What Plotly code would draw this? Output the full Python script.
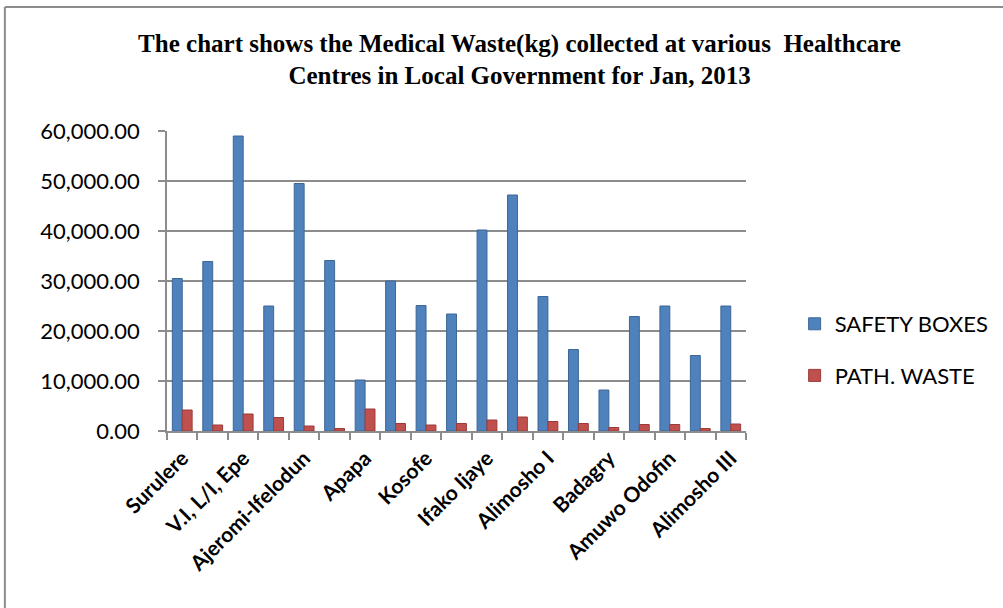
import plotly.graph_objects as go

centres = ["Surulere", "Lagos Mainland", "V.I, L/I, Epe", "Mushin", "Ajeromi-Ifelodun",
           "Oshodi-Isolo", "Apapa", "Ikeja", "Kosofe", "Shomolu", "Ifako Ijaye", "Agege",
           "Alimosho I", "Alimosho II", "Badagry", "Ojo", "Amuwo Odofin", "Ikorodu", "Alimosho III"]
safety_boxes = [30500, 33900, 59000, 25000, 49500, 34100, 10200, 30000, 25100, 23400,
                40200, 47200, 26900, 16300, 8200, 22900, 25000, 15100, 25000]
path_waste = [4200, 1200, 3400, 2700, 1000, 500, 4400, 1500, 1200, 1500,
              2200, 2800, 1900, 1500, 700, 1300, 1300, 500, 1400]
shown_labels = [c if i % 2 == 0 else "" for i, c in enumerate(centres)]
y_ticks = [0, 10000, 20000, 30000, 40000, 50000, 60000]

fig = go.Figure()
fig.add_trace(go.Bar(x=centres, y=safety_boxes, name="SAFETY BOXES", legendgroup="a",
                     marker=dict(color="#4F81BD", line=dict(color="#3C6796", width=1))))
fig.add_trace(go.Bar(x=centres, y=path_waste, name="PATH. WASTE", legendgroup="b",
                     marker=dict(color="#C0504D", line=dict(color="#9B3B39", width=1))))

fig.update_layout(
    width=1003, height=608,
    paper_bgcolor="white", plot_bgcolor="white",
    margin=dict(l=167, r=257, t=131, b=177, autoexpand=False),
    barmode="group", bargap=0.35, bargroupgap=0.0,
    title=dict(text="The chart shows the Medical Waste(kg) collected at various  Healthcare<br>Centres in Local Government for Jan, 2013",
               x=0.518, xanchor="center", y=0.915, yanchor="top",
               font=dict(family="Liberation Serif", size=25, color="black", weight="bold")),
    legend=dict(x=1.084, xanchor="left", y=0.27, yanchor="middle",
                font=dict(family="Lato", size=22, color="black"),
                tracegroupgap=20, itemwidth=30, bgcolor="rgba(0,0,0,0)"),
    font=dict(family="Lato", color="black"),
    shapes=[
        dict(type="line", xref="paper", yref="paper", x0=-0.280, x1=1.45, y0=1.413, y1=1.413,
             line=dict(color="#8C8C8C", width=2)),
        dict(type="line", xref="paper", yref="paper", x0=-0.280, x1=-0.280, y0=1.413, y1=-0.6,
             line=dict(color="#8C8C8C", width=2)),
    ],
)

fig.update_xaxes(
    type="category", tickvals=centres, ticktext=shown_labels, tickson="boundaries",
    tickangle=-45, ticks="outside", ticklen=7, tickcolor="#8C8C8C", tickwidth=1.5,
    ticklabelstandoff=5,
    showline=True, linecolor="#8C8C8C", linewidth=1.5, showgrid=False, automargin=False,
    tickfont=dict(family="Lato", size=21, color="black", weight="bold"),
)
fig.update_yaxes(
    range=[0, 60000], tickvals=y_ticks, tickformat=",.2f",
    ticks="outside", ticklen=7, tickcolor="#8C8C8C", tickwidth=1.5, ticklabelstandoff=14,
    showline=True, linecolor="#8C8C8C", linewidth=1.5, automargin=False,
    showgrid=True, gridcolor="#8C8C8C", gridwidth=1.5, zeroline=False,
    tickfont=dict(family="Lato", size=22, color="black"),
)

fig.write_html("out.html", config={"displayModeBar": False},
               post_script="document.body.style.margin='0';document.body.style.overflow='hidden';")
